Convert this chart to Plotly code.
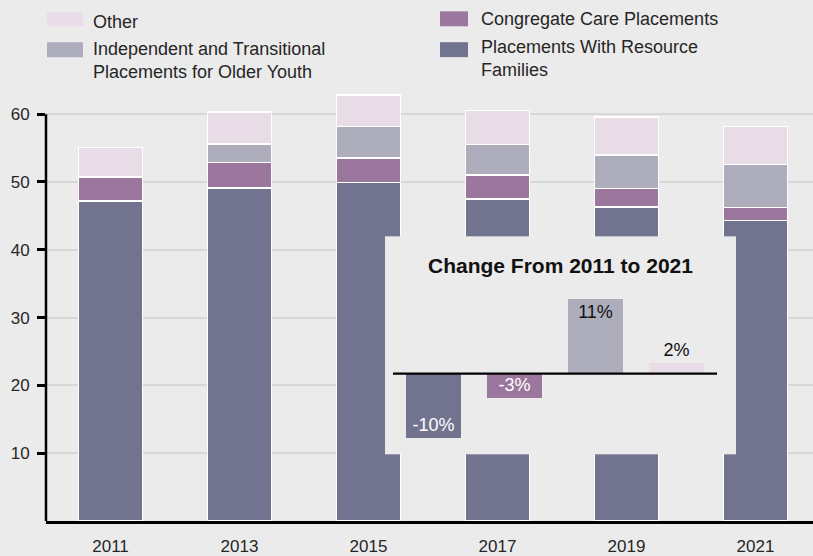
import plotly.graph_objects as go

# ---------------- data ----------------
years = ["2011", "2013", "2015", "2017", "2019", "2021"]
resource_families = [47.2, 49.1, 49.9, 47.5, 46.3, 44.3]
congregate_care = [3.5, 3.8, 3.6, 3.5, 2.7, 1.9]
independent_transitional = [0.0, 2.7, 4.7, 4.5, 5.0, 6.4]
other = [4.4, 4.7, 4.6, 5.0, 5.6, 5.6]

y_tick_vals = [10, 20, 30, 40, 50, 60]

change_categories = ["Resource Families", "Congregate Care", "Independent/Transitional", "Other"]
change_values = [-10.0, -3.7, 11.5, 1.7]
change_labels = ["-10%", "-3%", "11%", "2%"]

series_names = [
    "Placements With Resource<br>Families",
    "Congregate Care Placements",
    "Independent and Transitional<br>Placements for Older Youth",
    "Other",
]

# ---------------- styles ----------------
C_RES = "#72738f"
C_CONG = "#9b779d"
C_IND = "#aeadbc"
C_OTH = "#e8dde6"
BG = "#ebebeb"
INSET_BG = "#f1f1f1"
FONT = "Liberation Sans, Arial, Helvetica, sans-serif"
TXT = "#262626"

W, H = 813, 556
L, R, T, B = 46, 0, 87, 33
PW, PH = W - L - R, H - T - B


def px(x):
    return (x - L) / PW


def py(y):
    return (H - B - y) / PH


fig = go.Figure()

main_series = [
    (resource_families, C_RES, series_names[0]),
    (congregate_care, C_CONG, series_names[1]),
    (independent_transitional, C_IND, series_names[2]),
    (other, C_OTH, series_names[3]),
]
for vals, col, name in main_series:
    fig.add_trace(go.Bar(
        x=years, y=vals, name=name, marker=dict(color=col, line=dict(color="white", width=1.5)),
        showlegend=False, xaxis="x", yaxis="y", hoverinfo="x+y+name",
    ))

# inset bars
inset_colors = [C_RES, C_CONG, C_IND, C_OTH]
fig.add_trace(go.Bar(
    x=list(range(len(change_values))), y=change_values, text=change_labels,
    textposition=["inside", "inside", "inside", "outside"],
    insidetextanchor="end", constraintext="none", cliponaxis=False,
    textfont=dict(family=FONT, size=18, color=["white", "white", "#111111", "#111111"]),
    marker=dict(color=inset_colors, line=dict(width=0)), width=0.68,
    showlegend=False, xaxis="x2", yaxis="y2", hovertext=change_categories, hoverinfo="text+y",
))

shapes = []
annotations = []

# inset background (drawn in inset subplot layer, above main bars)
shapes.append(dict(type="rect", xref="x2 domain", yref="y2 domain", x0=0, x1=1, y0=0, y1=1,
                   fillcolor=INSET_BG, line=dict(width=0), layer="below"))
# inset baseline
shapes.append(dict(type="line", xref="x2", yref="y2", x0=-0.5, x1=3.5, y0=0, y1=0,
                   line=dict(color="black", width=2.2), layer="above"))
# y-axis line from 0 to 60
shapes.append(dict(type="line", xref="paper", yref="y", x0=0, x1=0, y0=0, y1=60,
                   line=dict(color="black", width=2.5), layer="above"))

annotations.append(dict(text="<b>Change From 2011 to 2021</b>", xref="x2 domain", x=0.5,
                        yref="paper", y=py(266.5), xanchor="center", yanchor="middle",
                        showarrow=False, font=dict(family=FONT, size=21, color="#111111")))

# manual legend
legend_items = [
    # (swatch x0, x1, y0, y1, text x, text y-center, name, color)
    (47, 83, 12, 26, 91, 21.5, series_names[3], C_OTH),
    (47, 83, 42, 57, 91, 60.5, series_names[2], C_IND),
    (440, 468, 11, 26, 479, 19, series_names[1], C_CONG),
    (440, 468, 42, 57, 479, 58.3, series_names[0], C_RES),
]
for x0, x1, y0, y1, tx, ty, name, col in legend_items:
    shapes.append(dict(type="rect", xref="paper", yref="paper", x0=px(x0), x1=px(x1),
                       y0=py(y1), y1=py(y0), fillcolor=col, line=dict(width=0)))
    annotations.append(dict(text=name, xref="paper", yref="paper", x=px(tx), y=py(ty),
                            xanchor="left", yanchor="middle", align="left", showarrow=False,
                            font=dict(family=FONT, size=18, color=TXT)))

fig.update_layout(
    width=W, height=H,
    margin=dict(l=L, r=R, t=T, b=B, pad=0),
    paper_bgcolor=BG, plot_bgcolor=BG,
    barmode="stack", bargap=0.504,
    font=dict(family=FONT, size=17, color=TXT),
    showlegend=False,
    shapes=shapes, annotations=annotations,
    xaxis=dict(type="category", range=[-0.5, -0.5 + PW / 129.0], showgrid=False, zeroline=False,
               showline=True, linecolor="black", linewidth=2.5, ticks="", ticklabelstandoff=8,
               tickfont=dict(family=FONT, size=17, color=TXT), domain=[0, 1]),
    yaxis=dict(range=[0, 64], tickvals=y_tick_vals, showgrid=True, gridcolor="#d7d7d7", gridwidth=1.5,
               zeroline=False, showline=False, ticks="outside", ticklen=8, tickwidth=2.5,
               tickcolor="black", ticklabelstandoff=4,
               tickfont=dict(family=FONT, size=17, color=TXT), domain=[0, 1]),
    xaxis2=dict(domain=[px(385), px(736)], anchor="y2",
                range=[(385 - 433.5) / 81.0, (736 - 433.5) / 81.0],
                showgrid=False, zeroline=False, showline=False, showticklabels=False, ticks=""),
    yaxis2=dict(domain=[py(456), py(237)], anchor="x2",
                range=[(375 - 456) / 6.5, (375 - 237) / 6.5],
                showgrid=False, zeroline=False, showline=False, showticklabels=False, ticks=""),
)

fig.write_html("out.html", config={"displayModeBar": False})

# remove default page margin so the figure fills the window exactly
with open("out.html", "r", encoding="utf-8") as f:
    html = f.read()
html = html.replace("<head>", "<head><style>html,body{margin:0;padding:0;overflow:hidden;background:%s;}</style>" % BG, 1)
with open("out.html", "w", encoding="utf-8") as f:
    f.write(html)
